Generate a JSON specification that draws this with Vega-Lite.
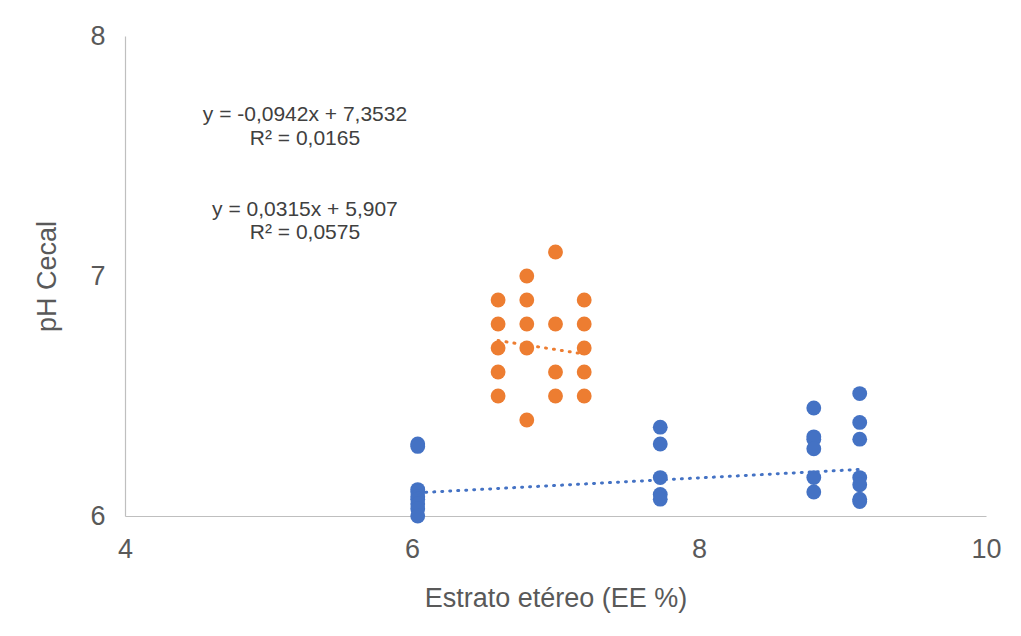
{
  "$schema": "https://vega.github.io/schema/vega-lite/v6.json",
  "autosize": {"type": "none"},
  "width": 861,
  "height": 480,
  "padding": {"left": 125, "top": 36, "right": 35, "bottom": 120},
  "background": "white",
  "config": {
    "view": {"stroke": null},
    "font": "Liberation Sans",
    "axis": {
      "domainColor": "#bfbfbf",
      "domainWidth": 1.2,
      "ticks": false,
      "grid": false,
      "labelColor": "#595959",
      "titleColor": "#595959",
      "labelFont": "Liberation Sans",
      "titleFont": "Liberation Sans",
      "labelFontSize": 27,
      "titleFontSize": 27,
      "titleFontWeight": "normal",
      "labelFlush": false,
      "labelOverlap": false
    }
  },
  "datasets": {
    "points": [
      {"x": 6.04, "y": 6.30, "serie": "A"},
      {"x": 6.04, "y": 6.29, "serie": "A"},
      {"x": 6.04, "y": 6.11, "serie": "A"},
      {"x": 6.04, "y": 6.10, "serie": "A"},
      {"x": 6.04, "y": 6.08, "serie": "A"},
      {"x": 6.04, "y": 6.07, "serie": "A"},
      {"x": 6.04, "y": 6.05, "serie": "A"},
      {"x": 6.04, "y": 6.03, "serie": "A"},
      {"x": 6.04, "y": 6.00, "serie": "A"},
      {"x": 7.73, "y": 6.37, "serie": "A"},
      {"x": 7.73, "y": 6.30, "serie": "A"},
      {"x": 7.73, "y": 6.16, "serie": "A"},
      {"x": 7.73, "y": 6.09, "serie": "A"},
      {"x": 7.73, "y": 6.07, "serie": "A"},
      {"x": 8.80, "y": 6.45, "serie": "A"},
      {"x": 8.80, "y": 6.33, "serie": "A"},
      {"x": 8.80, "y": 6.32, "serie": "A"},
      {"x": 8.80, "y": 6.28, "serie": "A"},
      {"x": 8.80, "y": 6.16, "serie": "A"},
      {"x": 8.80, "y": 6.10, "serie": "A"},
      {"x": 9.12, "y": 6.51, "serie": "A"},
      {"x": 9.12, "y": 6.39, "serie": "A"},
      {"x": 9.12, "y": 6.32, "serie": "A"},
      {"x": 9.12, "y": 6.16, "serie": "A"},
      {"x": 9.12, "y": 6.13, "serie": "A"},
      {"x": 9.12, "y": 6.07, "serie": "A"},
      {"x": 9.12, "y": 6.06, "serie": "A"},
      {"x": 6.6, "y": 6.9, "serie": "B"},
      {"x": 6.6, "y": 6.8, "serie": "B"},
      {"x": 6.6, "y": 6.7, "serie": "B"},
      {"x": 6.6, "y": 6.6, "serie": "B"},
      {"x": 6.6, "y": 6.5, "serie": "B"},
      {"x": 6.8, "y": 7.0, "serie": "B"},
      {"x": 6.8, "y": 6.9, "serie": "B"},
      {"x": 6.8, "y": 6.8, "serie": "B"},
      {"x": 6.8, "y": 6.7, "serie": "B"},
      {"x": 6.8, "y": 6.4, "serie": "B"},
      {"x": 7.0, "y": 7.1, "serie": "B"},
      {"x": 7.0, "y": 6.8, "serie": "B"},
      {"x": 7.0, "y": 6.6, "serie": "B"},
      {"x": 7.0, "y": 6.5, "serie": "B"},
      {"x": 7.2, "y": 6.9, "serie": "B"},
      {"x": 7.2, "y": 6.8, "serie": "B"},
      {"x": 7.2, "y": 6.7, "serie": "B"},
      {"x": 7.2, "y": 6.6, "serie": "B"},
      {"x": 7.2, "y": 6.5, "serie": "B"}
    ],
    "trends": [
      {"x": 6.04, "y": 6.097, "serie": "A"},
      {"x": 9.12, "y": 6.194, "serie": "A"},
      {"x": 6.6, "y": 6.731, "serie": "B"},
      {"x": 7.2, "y": 6.675, "serie": "B"}
    ],
    "labels": [
      {"x": 5.254, "y": 7.671, "text": "y = -0,0942x + 7,3532"},
      {"x": 5.254, "y": 7.571, "text": "R² = 0,0165"},
      {"x": 5.254, "y": 7.275, "text": "y = 0,0315x + 5,907"},
      {"x": 5.254, "y": 7.179, "text": "R² = 0,0575"}
    ]
  },
  "layer": [
    {
      "data": {"name": "points"},
      "mark": {"type": "point", "shape": "circle", "filled": true, "opacity": 1, "size": 220},
      "encoding": {
        "x": {
          "field": "x", "type": "quantitative",
          "scale": {"domain": [4, 10], "nice": false, "zero": false},
          "axis": {"values": [4, 6, 8, 10], "format": ".0f", "title": "Estrato etéreo (EE %)", "labelPadding": 20, "titleY": 82, "titleBaseline": "middle"}
        },
        "y": {
          "field": "y", "type": "quantitative",
          "scale": {"domain": [6, 8], "nice": false, "zero": false},
          "axis": {"values": [6, 7, 8], "format": ".0f", "title": "pH Cecal", "labelPadding": 20, "titleX": -78, "titleY": 240, "titleAngle": 270, "titleAlign": "center", "titleBaseline": "middle"}
        },
        "color": {
          "field": "serie", "type": "nominal",
          "scale": {"domain": ["A", "B"], "range": ["#4472C4", "#ED7D31"]},
          "legend": null
        }
      }
    },
    {
      "data": {"name": "trends"},
      "mark": {"type": "line", "strokeWidth": 3, "strokeDash": [1, 7], "strokeCap": "round"},
      "encoding": {
        "x": {"field": "x", "type": "quantitative"},
        "y": {"field": "y", "type": "quantitative"},
        "color": {"field": "serie", "type": "nominal", "legend": null},
        "detail": {"field": "serie"}
      }
    },
    {
      "data": {"name": "labels"},
      "mark": {"type": "text", "font": "Liberation Sans", "fontSize": 21, "color": "#404040", "align": "center", "baseline": "middle"},
      "encoding": {
        "x": {"field": "x", "type": "quantitative"},
        "y": {"field": "y", "type": "quantitative"},
        "text": {"field": "text"}
      }
    }
  ]
}
